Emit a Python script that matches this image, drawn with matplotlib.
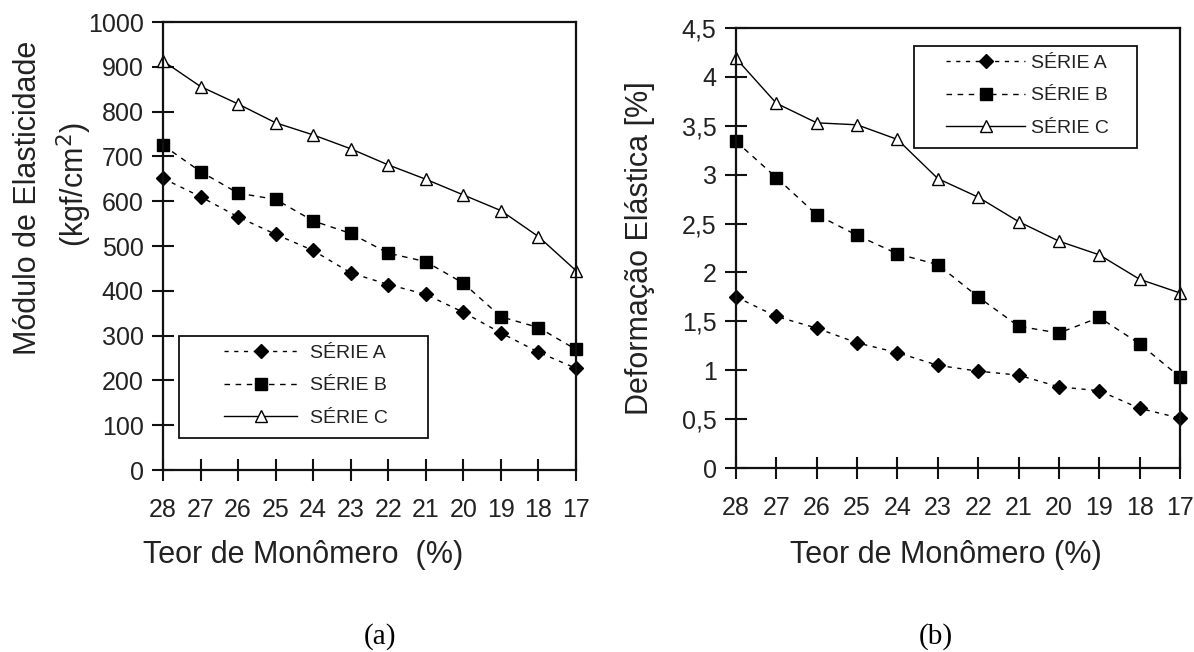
import matplotlib
matplotlib.use("Agg")
import matplotlib.pyplot as plt
from matplotlib.patches import Rectangle
from matplotlib.ticker import FuncFormatter

plt.rcParams['font.family'] = ['Liberation Sans', 'DejaVu Sans']

# === DATA ===
teor = ["28", "27", "26", "25", "24", "23", "22", "21", "20", "19", "18", "17"]

# (a) Modulo de Elasticidade (kgf/cm2)
mod_a = [651, 610, 565, 526, 490, 440, 414, 392, 352, 306, 263, 227]
mod_b = [725, 666, 618, 604, 556, 528, 484, 465, 417, 342, 318, 269]
mod_c = [913, 856, 817, 775, 748, 717, 681, 649, 614, 579, 521, 445]

# (b) Deformacao Elastica (%)
def_a = [1.75, 1.55, 1.43, 1.28, 1.18, 1.05, 0.99, 0.95, 0.83, 0.79, 0.61, 0.51]
def_b = [3.34, 2.97, 2.59, 2.38, 2.19, 2.08, 1.75, 1.45, 1.38, 1.54, 1.27, 0.93]
def_c = [4.19, 3.73, 3.53, 3.51, 3.36, 2.96, 2.77, 2.52, 2.32, 2.18, 1.93, 1.79]

series_names = ["SÉRIE A", "SÉRIE B", "SÉRIE C"]

W, H = 1194, 652
fig = plt.figure(figsize=(W / 100, H / 100), dpi=100)

TXT = '#222222'
xs = list(range(len(teor)))


def px(x, y):
    # pixel position (from top-left) -> figure fraction
    return x / W, 1 - y / H


def draw_panel(ax, a, b, c):
    ax.plot(xs, a, color='black', lw=1, ls=(0, (3, 4)), marker='D', ms=7,
            mfc='black', mec='black', label=series_names[0])
    ax.plot(xs, b, color='black', lw=1, ls=(0, (4, 4)), marker='s', ms=8,
            mfc='black', mec='black', label=series_names[1])
    ax.plot(xs, c, color='black', lw=1, ls='-', marker='^', ms=9,
            mfc='white', mec='black', mew=1, label=series_names[2])
    ax.set_xlim(0, len(teor) - 1)
    ax.set_xticks(xs)
    ax.set_xticklabels(teor)
    for s in ax.spines.values():
        s.set_linewidth(1.6)
        s.set_color('#111')
    ax.tick_params(direction='inout', length=16, width=1.5, colors='#111',
                   labelcolor=TXT, labelsize=18)
    ax.tick_params(axis='x', pad=12)
    ax.tick_params(axis='y', pad=6)
    for ln in ax.lines:
        ln.set_clip_on(False)


def draw_legend(ax, box, anchor, hlen, hpad):
    # box: (x0, y0, x1, y1) in pixels, anchor: upper-left of the entries in pixels
    leg = ax.legend(loc='upper left', bbox_to_anchor=px(*anchor),
                    bbox_transform=fig.transFigure, frameon=False, fontsize=14,
                    handlelength=hlen, handletextpad=hpad, borderpad=0,
                    borderaxespad=0, labelspacing=0.78)
    for t in leg.get_texts():
        t.set_color(TXT)
    x0, y0, x1, y1 = box
    fig.patches.append(Rectangle(px(x0, y1), (x1 - x0) / W, (y1 - y0) / H,
                                 transform=fig.transFigure, fill=False,
                                 edgecolor='#111', lw=1.3))


# ---- panel (a) ----
ax1 = fig.add_axes([163 / W, 1 - 470 / H, (576 - 163) / W, (470 - 22) / H])
draw_panel(ax1, mod_a, mod_b, mod_c)
ax1.set_ylim(0, 1000)
ax1.set_yticks(range(0, 1001, 100))
draw_legend(ax1, (179, 336, 428, 438), (224, 344), 3.76, 0.67)

fig.text(*px(28, 198), "Módulo de Elasticidade", rotation=90,
         ha='center', va='center', fontsize=22, color=TXT)
fig.text(*px(74, 184), "(kgf/cm$^2$)", rotation=90,
         ha='center', va='center', fontsize=22, color=TXT)
fig.text(*px(143, 555), "Teor de Monômero  (%)", ha='left', va='center',
         fontsize=22, color=TXT)
fig.text(*px(380, 637), "(a)", ha='center', va='center', fontsize=21,
         family='Liberation Serif', color='black')

# ---- panel (b) ----
ax2 = fig.add_axes([736 / W, 1 - 468 / H, (1180 - 736) / W, (468 - 28) / H])
draw_panel(ax2, def_a, def_b, def_c)
ax2.set_ylim(0, 4.5)
ax2.set_yticks([i * 0.5 for i in range(10)])
ax2.yaxis.set_major_formatter(FuncFormatter(lambda v, p: ("%g" % v).replace('.', ',')))
draw_legend(ax2, (914, 46, 1137, 148), (946, 54), 4.07, 0.31)

fig.text(*px(640, 248), "Deformação Elástica [%]", rotation=90,
         ha='center', va='center', fontsize=22, color=TXT)
fig.text(*px(946, 555), "Teor de Monômero (%)", ha='center', va='center',
         fontsize=22, color=TXT)
fig.text(*px(936, 637), "(b)", ha='center', va='center', fontsize=21,
         family='Liberation Serif', color='black')

fig.savefig("out.png", dpi=100)
